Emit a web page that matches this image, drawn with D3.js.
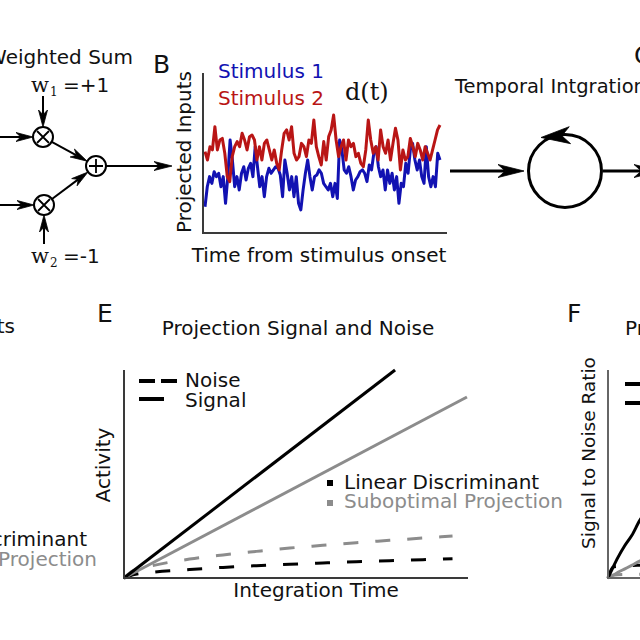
<!DOCTYPE html>
<html><head><meta charset="utf-8">
<script src="https://cdn.jsdelivr.net/npm/d3@7"></script>
<style>
html,body{margin:0;padding:0;background:#fff;}
svg{display:block;}
</style></head><body>
<svg id="fig" width="640" height="640"></svg>
<script>
// ---------------- DATA ----------------
// Panel B: projected inputs d(t) (arbitrary units)
const stimulus1 = [1.58,2.83,3.46,3.04,3.77,3.46,3.67,2.83,3.46,1.79,3.46,5.75,4.5,2.83,3.46,2.63,3.67,4.08,3.25,3.98,4.29,3.46,5.33,4.08,2.83,3.46,2.21,3.46,3.98,3.67,3.88,4.08,3.98,3.56,2.21,4.5,3.67,2.63,3.46,2.21,3.46,1.79,1.38,2.63,3.67,4.5,3.46,2.63,3.46,3.56,3.88,3.67,3.04,
  2.83,2.63,3.04,2.21,3.04,2.1,5.75,5.13,3.88,3.67,4.08,3.46,2.63,3.25,3.46,3.77,3.88,3.67,3.15,4.19,3.88,4.92,5.33,4.08,3.46,3.88,2.63,3.88,3.04,3.67,2.63,3.46,1.79,3.04,2.83,4.29,3.67,5.13,5.54,4.5,3.88,4.5,3.46,3.04,5.33,3.46,2.83,3.46,2.83,4.92,4.5];
const stimulus2 = [5.02,4.5,5.33,5.13,6.58,5.13,5.75,5.85,4.92,3.46,3.15,4.71,5.33,5.65,5.33,6.17,5.75,5.13,5.96,6.06,5.75,4.5,5.33,4.5,5.54,5.75,5.13,4.5,5.13,4.29,3.88,5.13,6.17,6.38,5.75,6.58,4.92,4.5,4.71,5.54,5.33,4.71,5.75,5.54,7.0,5.33,4.71,4.19,
  5.65,4.5,5.96,6.38,7.31,5.75,4.71,5.33,5.75,4.5,5.75,5.33,5.54,4.71,4.92,4.29,4.08,5.13,7.0,5.75,4.92,5.33,4.5,6.38,5.33,4.92,5.75,4.5,5.54,6.48,5.75,3.88,5.13,4.5,4.71,5.85,5.33,4.71,5.54,5.13,4.5,5.33,4.92,4.5,5.13,5.75,6.38,6.69];
const stimulusLabels = ["Stimulus 1","Stimulus 2"];
const weightLabels = ["=+1","=-1"];

// Panel E: activity vs integration time
const eSignalLDTime = [0, 0.788];
const eSignalLD = [0, 1.0];
const eSignalSubTime = [0, 0.997];
const eSignalSub = [0, 0.870];
const eNoiseTime = [0, 0.026, 0.075, 0.191, 0.288, 0.385, 0.482, 0.578, 0.675, 0.772, 0.869, 0.955];
const eNoiseSub = [0, 0.034, 0.056, 0.091, 0.111, 0.128, 0.144, 0.157, 0.170, 0.181, 0.192, 0.202];
const eNoiseLD = [0, 0.015, 0.026, 0.041, 0.051, 0.059, 0.066, 0.072, 0.078, 0.083, 0.088, 0.093];
const eLegendNames = ["Noise","Signal"];
const projectionNames = ["Linear Discriminant","Suboptimal Projection"];

// Panel F: signal-to-noise ratio (only its left edge is in view)
const fTime = [0, 0.0145, 0.029, 0.049, 0.069, 0.092, 0.12];
const fSnrLD = [0, 0.051, 0.099, 0.156, 0.204, 0.276, 0.34];
const fSnrSub = [0, 0.013, 0.027, 0.044, 0.061, 0.081, 0.10];
const fLowLD = [0, 0.052, 0.056, 0.058, 0.060, 0.061, 0.062];
const fLowSub = [0, 0.013, 0.016, 0.017, 0.018, 0.018, 0.019];

// ---------------- DRAW ----------------
const svg = d3.select("#fig");
const BLUE = "#1212b2", RED = "#b91515", GRAY = "#8c8c8c", AX = "#3a3a3a";

function txt(g, x, y, s, o = {}) {
  const t = g.append("text").attr("x", x).attr("y", y).text(s)
    .style("font-family", o.family || "'DejaVu Sans', sans-serif")
    .style("font-size", (o.size || 20) + "px").attr("fill", o.fill || "#111")
    .attr("text-anchor", o.anchor || "start");
  if (o.rot) t.attr("transform", `rotate(-90,${x},${y})`);
  return t;
}
function arrow(g, x1, y1, x2, y2, len, hw, w, headOnly) {
  const a = Math.atan2(y2 - y1, x2 - x1), ux = Math.cos(a), uy = Math.sin(a), nx = -uy, ny = ux;
  const px = x2 - ux * len * 0.72, py = y2 - uy * len * 0.72;
  if (!headOnly) g.append("line").attr("x1", x1).attr("y1", y1).attr("x2", px).attr("y2", py)
    .attr("stroke", "#000").attr("stroke-width", w);
  g.append("path").attr("d",
    `M${x2},${y2}L${x2 - ux * len + nx * hw},${y2 - uy * len + ny * hw}L${px},${py}L${x2 - ux * len - nx * hw},${y2 - uy * len - ny * hw}Z`)
    .attr("fill", "#000").attr("stroke", "#000").attr("stroke-width", 0.8).attr("stroke-linejoin", "miter");
}

// ---- Panel A: weighted sum ----
const A = svg.append("g");
txt(A, 133, 64, "Weighted Sum", {anchor: "end"});
const mult = [{x: 43, y: 137}, {x: 44, y: 205}];
const sum = {x: 96, y: 166}, R = 10;
mult.forEach((m, i) => {
  A.append("circle").attr("cx", m.x).attr("cy", m.y).attr("r", R).attr("fill", "none").attr("stroke", "#000").attr("stroke-width", 2);
  const d = 6;
  A.append("path").attr("d", `M${m.x - d},${m.y - d}L${m.x + d},${m.y + d}M${m.x - d},${m.y + d}L${m.x + d},${m.y - d}`)
    .attr("stroke", "#000").attr("stroke-width", 1.8);
  arrow(A, -5, m.y, m.x - R, m.y, 17, 4.5, 2);
  if (i === 0) arrow(A, m.x, 96, m.x, m.y - R, 17, 4.5, 2);
  else arrow(A, m.x, 244, m.x, m.y + R, 17, 4.5, 2);
  const ang = Math.atan2(sum.y - m.y, sum.x - m.x);
  arrow(A, m.x + R * Math.cos(ang), m.y + R * Math.sin(ang), sum.x - R * Math.cos(ang), sum.y - R * Math.sin(ang), 17, 4.5, 2);
  const by = i === 0 ? 92 : 263;
  txt(A, 31, by, "w", {family: "'DejaVu Serif', serif", size: 21});
  txt(A, 50, by + 4, String(i + 1), {family: "'DejaVu Serif', serif", size: 12});
  txt(A, 63, by, weightLabels[i], {size: 20});
});
A.append("circle").attr("cx", sum.x).attr("cy", sum.y).attr("r", R).attr("fill", "none").attr("stroke", "#000").attr("stroke-width", 2);
A.append("path").attr("d", `M${sum.x - 7},${sum.y}L${sum.x + 7},${sum.y}M${sum.x},${sum.y - 7}L${sum.x},${sum.y + 7}`)
  .attr("stroke", "#000").attr("stroke-width", 1.8);
arrow(A, sum.x + R, sum.y, 172, sum.y, 18, 4.5, 2);

// ---- Panel B: projected inputs ----
const B = svg.append("g");
txt(B, 153, 73, "B", {size: 25});
const yB = d3.scaleLinear().domain([0, 10]).range([232, 72]);
[[stimulus1, BLUE], [stimulus2, RED]].forEach(([vals, col]) => {
  const xB = d3.scaleLinear().domain([0, vals.length - 1]).range([205, 440]);
  B.append("path").datum(vals)
    .attr("d", d3.line().x((d, i) => xB(i)).y(d => yB(d)))
    .attr("fill", "none").attr("stroke", col).attr("stroke-width", 3).attr("stroke-linejoin", "round");
});
B.append("path").attr("d", `M203,73V233H447`).attr("fill", "none").attr("stroke", AX).attr("stroke-width", 2);
txt(B, 218, 78, stimulusLabels[0], {fill: BLUE});
txt(B, 218, 105, stimulusLabels[1], {fill: RED});
txt(B, 345, 100, "d(t)", {family: "'DejaVu Serif', serif", size: 24});
txt(B, 191, 152, "Projected Inputs", {anchor: "middle", rot: true});
txt(B, 319, 262, "Time from stimulus onset", {anchor: "middle"});

// ---- Panel C: temporal integration ----
const C = svg.append("g");
txt(C, 634, 64, "C", {size: 25});
txt(C, 455, 93, "Temporal Intgration", {size: 19.5});
arrow(C, 450, 171, 524, 171, 26, 6.5, 3);
C.append("circle").attr("cx", 565).attr("cy", 171).attr("r", 36.5).attr("fill", "none").attr("stroke", "#000").attr("stroke-width", 3);
arrow(C, 572, 135, 541, 137.5, 29, 8.5, 3, true);
arrow(C, 603, 171, 660, 171, 26, 6.5, 3);

// ---- Panel D (edge) ----
const D = svg.append("g");
txt(D, 15, 333, "ts", {anchor: "end"});
txt(D, 87, 546, projectionNames[0], {anchor: "end"});
txt(D, 97, 566, projectionNames[1], {anchor: "end", fill: GRAY});

// ---- Panel E: projection signal and noise ----
const E = svg.append("g");
txt(E, 97, 322, "E", {size: 25});
txt(E, 298, 335, "Projection Signal and Noise", {anchor: "middle"});
const xE = d3.scaleLinear().domain([0, 1]).range([124, 468]);
const yE = d3.scaleLinear().domain([0, 1]).range([578, 370]);
const lineE = d3.line().x(d => xE(d[0])).y(d => yE(d[1])).curve(d3.curveMonotoneX);
const zip = (a, b) => a.map((v, i) => [v, b[i]]);
[[zip(eNoiseTime, eNoiseLD), "#000", "15,17"], [zip(eNoiseTime, eNoiseSub), GRAY, "15,17"],
 [zip(eSignalSubTime, eSignalSub), GRAY, null], [zip(eSignalLDTime, eSignalLD), "#000", null]]
  .forEach(([pts, col, dash]) => {
    const p = E.append("path").datum(pts).attr("d", lineE).attr("fill", "none")
      .attr("stroke", col).attr("stroke-width", 3);
    if (dash) p.attr("stroke-dasharray", dash);
  });
E.append("path").attr("d", `M124,370V578H468`).attr("fill", "none").attr("stroke", AX).attr("stroke-width", 2);
txt(E, 110, 465, "Activity", {anchor: "middle", rot: true});
txt(E, 316, 597, "Integration Time", {anchor: "middle"});
E.append("line").attr("x1", 139).attr("x2", 177).attr("y1", 381).attr("y2", 381).attr("stroke", "#000").attr("stroke-width", 4).attr("stroke-dasharray", "16,6");
E.append("line").attr("x1", 139).attr("x2", 164).attr("y1", 399).attr("y2", 399).attr("stroke", "#000").attr("stroke-width", 4);
txt(E, 185, 387, eLegendNames[0]);
txt(E, 185, 407, eLegendNames[1]);
E.append("rect").attr("x", 327).attr("y", 480).attr("width", 6).attr("height", 6).attr("fill", "#000");
E.append("rect").attr("x", 327).attr("y", 500).attr("width", 6).attr("height", 6).attr("fill", GRAY);
txt(E, 344, 489, projectionNames[0]);
txt(E, 344, 508, projectionNames[1], {fill: GRAY});

// ---- Panel F: SNR ----
const F = svg.append("g");
txt(F, 567, 322, "F", {size: 25});
txt(F, 625, 335, "Pr");
const xF = d3.scaleLinear().domain([0, 1]).range([608, 952]);
const yF = d3.scaleLinear().domain([0, 1]).range([578, 370]);
const lineF = d3.line().x(d => xF(d[0])).y(d => yF(d[1])).curve(d3.curveMonotoneX);
[[fLowSub, GRAY, "15,17"], [fLowLD, "#000", "15,17"], [fSnrSub, GRAY, null], [fSnrLD, "#000", null]].forEach(([v, col, dash]) => {
  const p = F.append("path").datum(zip(fTime, v)).attr("d", lineF).attr("fill", "none").attr("stroke", col).attr("stroke-width", 3);
  if (dash) p.attr("stroke-dasharray", dash);
});
F.append("path").attr("d", `M608,370V578H645`).attr("fill", "none").attr("stroke", "#666").attr("stroke-width", 2);
txt(F, 595, 453, "Signal to Noise Ratio", {anchor: "middle", rot: true, size: 18.5});
F.append("line").attr("x1", 625).attr("x2", 645).attr("y1", 384).attr("y2", 384).attr("stroke", "#000").attr("stroke-width", 4);
F.append("line").attr("x1", 625).attr("x2", 645).attr("y1", 403).attr("y2", 403).attr("stroke", "#000").attr("stroke-width", 4);
</script>
</body></html>
